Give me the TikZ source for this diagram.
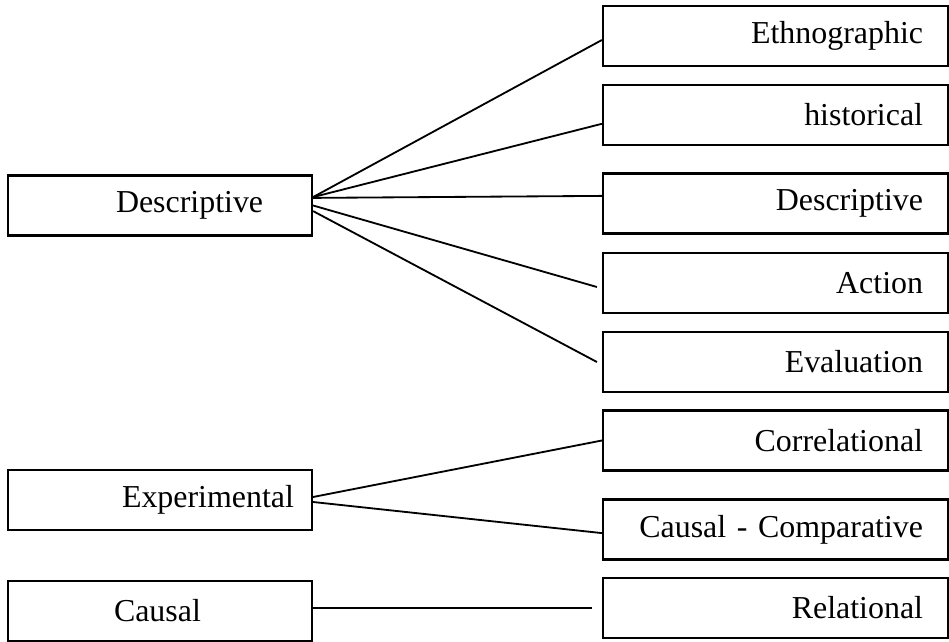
\documentclass[tikz,border=0pt]{standalone}
\usepackage{fontspec}
\setmainfont{Liberation Serif}

\begin{document}
\begin{tikzpicture}[x=0.025cm,y=-0.025cm,
        font=\fontsize{22.7}{27}\selectfont,
        leftbox/.style={draw, line width=1.5pt, minimum width=7.6cm, minimum height=1.5cm, inner sep=0pt},
        lefttext/.style={anchor=west, xshift=2.72cm, inner sep=0pt},
        rightbox/.style={draw, line width=1.5pt, minimum width=8.625cm, minimum height=1.5cm, text width=7.375cm, align=right, inner xsep=0.625cm, inner ysep=0pt},
        link/.style={line width=1.3pt}]
        \useasboundingbox (0,0) rectangle (949,642);
        % left column
        \node[leftbox, label={[lefttext]west:Descriptive}] (descL) at (160,205.5) {};
        \node[leftbox, label={[lefttext, xshift=0.15cm]west:Experimental}] (expL) at (160,500) {};
        \node[leftbox, label={[lefttext, xshift=-0.05cm]west:Causal}] (causL) at (160,611) {};
        % right column
        \node[rightbox] (ethno) at (775.5,36) {Ethnographic};
        \node[rightbox] (hist) at (775.5,115) {historical};
        \node[rightbox] (descR) at (775.5,203.5) {Descriptive};
        \node[rightbox] (action) at (775.5,283) {Action};
        \node[rightbox] (eval) at (775.5,362) {Evaluation};
        \node[rightbox] (corr) at (775.5,440.5) {Correlational};
        \node[rightbox] (ccomp) at (775.5,529.5) {Causal - Comparative};
        \node[rightbox] (rel) at (775.5,608) {Relational};
        % loose ends
        \coordinate (actend) at ([xshift=-0.125cm,yshift=-0.1cm]action.west);
        \coordinate (evalend) at ([xshift=-0.125cm]eval.west);
        \coordinate (relend) at ([xshift=-0.25cm]rel.west);
        \draw [link] ([yshift=0.21cm]descL.east) -- ([yshift=-0.1cm]ethno.west);
        \draw [link] ([yshift=0.21cm]descL.east) -- ([yshift=-0.22cm]hist.west);
        \draw [link] ([yshift=0.19cm]descL.east) -- ([yshift=0.19cm]descR.west);
        \draw [link] (descL.east) -- (actend);
        \draw [link] ([yshift=-0.14cm]descL.east) -- (evalend);
        \draw [link] ([yshift=0.075cm]expL.east) -- (corr.west);
        \draw [link] ([yshift=-0.05cm]expL.east) -- ([yshift=-0.09cm]ccomp.west);
        \draw [link] ([yshift=0.075cm]causL.east) -- (relend);
    \end{tikzpicture}
\end{document}
